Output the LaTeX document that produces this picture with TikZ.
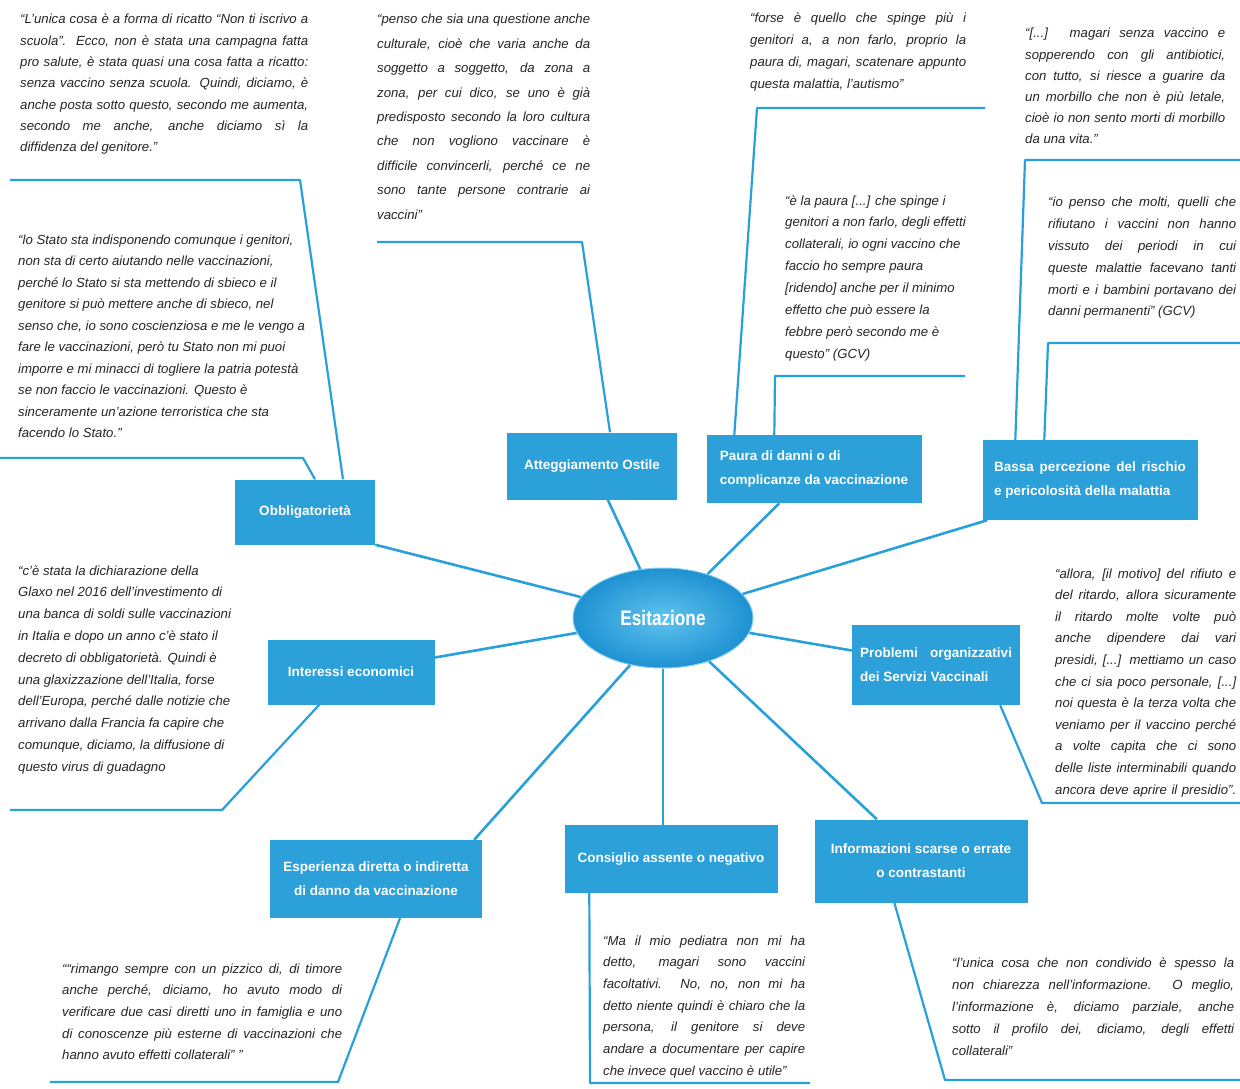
\documentclass[tikz,border=0pt]{standalone}
\usepackage{fontspec}
\setmainfont{Liberation Sans}
\newfontfamily\titlefont{Liberation Sans}[FakeStretch=0.82]
\usetikzlibrary{shapes.geometric,calc}

\definecolor{mapblue}{RGB}{40,161,219}
\definecolor{boxblue}{RGB}{44,160,217}
\definecolor{quotegray}{RGB}{38,38,38}
\definecolor{ellin}{RGB}{95,195,238}
\definecolor{ellout}{RGB}{30,145,210}
\definecolor{ellrim}{RGB}{130,205,240}

% one justified line / one natural-width line of a quotation
\newcommand\J[1]{\hbox to\hsize{#1}}
\newcommand\R[1]{\hbox{#1}}

\tikzset{
  link/.style={draw=mapblue, line width=2.6pt},
  lead/.style={draw=mapblue, line width=2.2pt, line join=round},
  topic/.style={rectangle, fill=boxblue, text=white, inner sep=0pt,
    font=\fontsize{13.5}{24}\selectfont\bfseries},
  quote/.style={inner sep=0pt, anchor=base west, text=quotegray,
    font=\fontsize{13.2}{21.6}\selectfont\itshape},
}

\begin{document}
\begin{tikzpicture}[x=1pt,y=-1pt]
\useasboundingbox (0,0) rectangle (1240,1089);
\fill[white] (0,0) rectangle (1240,1089);

% central concept
\node[ellipse, minimum width=180pt, minimum height=100pt, inner sep=0pt,
  inner color=ellin, outer color=ellout, draw=ellrim, line width=1pt,
  text=white, font=\titlefont\fontsize{21}{24}\selectfont\bfseries]
  (esi) at (663,618) {Esitazione};

% topic boxes
\node[topic, minimum width=140pt, minimum height=65pt] (obb) at (305,512) {Obbligatorietà};
\node[topic, minimum width=170pt, minimum height=67pt] (att) at (592,466) {Atteggiamento Ostile};
\node[topic, minimum width=215pt, minimum height=68pt, align=left] (pau) at (814,469)
  {Paura di danni o di\\complicanze da vaccinazione};
\node[topic, minimum width=215pt, minimum height=80pt, align=left] (bas) at (1090,480)
  {\hbox to 192pt{Bassa\hfill percezione\hfill del\hfill rischio}\\e pericolosità della malattia};
\node[topic, minimum width=168pt, minimum height=80pt, align=left] (pro) at (936,665)
  {\hbox to 152pt{Problemi\hfill organizzativi}\\dei Servizi Vaccinali};
\node[topic, minimum width=167pt, minimum height=65pt] (int) at (351,672) {Interessi economici};
\node[topic, minimum width=212pt, minimum height=78pt, align=center] (esp) at (376,879)
  {Esperienza diretta o indiretta\\di danno da vaccinazione};
\node[topic, minimum width=213pt, minimum height=68pt] (con) at (671,859) {Consiglio assente o negativo};
\node[topic, minimum width=213pt, minimum height=83pt, align=center] (inf) at (921,861)
  {Informazioni scarse o errate\\o contrastanti};

% spokes from the centre
\draw[link] (esi) -- (obb.south east);
\draw[link] (esi) -- (att);
\draw[link] (esi) -- (pau);
\draw[link] (esi) -- ($(bas.south west)+(5,0)$);
\draw[link] (esi) -- (pro);
\draw[link] (esi) -- (int);
\draw[link] (esi.235) -- ($(esp.north east)+(-8,0)$);
\draw[link] (esi) -- (esi |- con.north);
\draw[link] (esi) -- (inf);

% free ends of the quotation leaders
\coordinate (a1) at (300,180);  \coordinate (a2) at (10,180);
\coordinate (b1) at (303,458);  \coordinate (b2) at (0,458);
\coordinate (c1) at (582,242);  \coordinate (c2) at (377,242);
\coordinate (d1) at (757,108);  \coordinate (d2) at (985,108);
\coordinate (e1) at (775,376);  \coordinate (e2) at (965,376);
\coordinate (f1) at (1025,160); \coordinate (f2) at (1240,160);
\coordinate (g1) at (1048,343); \coordinate (g2) at (1240,343);
\coordinate (h1) at (1042,803); \coordinate (h2) at (1240,803);
\coordinate (i1) at (222,810);  \coordinate (i2) at (10,810);
\coordinate (j1) at (338,1082); \coordinate (j2) at (50,1082);
\coordinate (k1) at (590,1083); \coordinate (k2) at (810,1083);
\coordinate (l1) at (945,1080); \coordinate (l2) at (1240,1080);

% quotation leaders
\draw[lead] ($(obb.north)+(38,0)$) -- (a1) -- (a2);
\draw[lead] ($(obb.north)+(10,0)$) -- (b1) -- (b2);
\draw[lead] ($(att.north)+(18,0)$) -- (c1) -- (c2);
\draw[lead] ($(pau.north west)+(28,0)$) -- (d1) -- (d2);
\draw[lead] ($(pau.north west)+(68,0)$) -- (e1) -- (e2);
\draw[lead] ($(bas.north west)+(33,0)$) -- (f1) -- (f2);
\draw[lead] ($(bas.north west)+(62,0)$) -- (g1) -- (g2);
\draw[lead] ($(pro.south east)+(-20,0)$) -- (h1) -- (h2);
\draw[lead] ($(int.south west)+(52,0)$) -- (i1) -- (i2);
\draw[lead] ($(esp.south)+(24,0)$) -- (j1) -- (j2);
\draw[lead] ($(con.south west)+(25,0)$) -- (k1) -- (k2);
\draw[lead] ($(inf.south west)+(80,0)$) -- (l1) -- (l2);

% quotations
\node[quote] (q1) at (20,24) {\parbox[t]{288pt}{\baselineskip=21.3pt
\J{“L'unica cosa è a forma di ricatto “Non ti iscrivo a}
\J{scuola”. Ecco, non è stata una campagna fatta}
\J{pro salute, è stata quasi una cosa fatta a ricatto:}
\J{senza vaccino senza scuola. Quindi, diciamo, è}
\J{anche posta sotto questo, secondo me aumenta,}
\J{secondo me anche, anche diciamo sì la}
\R{diffidenza del genitore.”}}};

\node[quote] (q2) at (377,24) {\parbox[t]{213pt}{\baselineskip=24.4pt
\J{“penso che sia una questione anche}
\J{culturale, cioè che varia anche da}
\J{soggetto a soggetto, da zona a}
\J{zona, per cui dico, se uno è già}
\J{predisposto secondo la loro cultura}
\J{che non vogliono vaccinare è}
\J{difficile convincerli, perché ce ne}
\J{sono tante persone contrarie ai}
\R{vaccini”}}};

\node[quote] (q3) at (750,23) {\parbox[t]{216pt}{\baselineskip=22pt
\J{“forse è quello che spinge più i}
\J{genitori a, a non farlo, proprio la}
\J{paura di, magari, scatenare appunto}
\R{questa malattia, l'autismo”}}};

\node[quote] (q4) at (1025,38) {\parbox[t]{200pt}{\baselineskip=21.2pt
\J{“[...] magari senza vaccino e}
\J{sopperendo con gli antibiotici,}
\J{con tutto, si riesce a guarire da}
\J{un morbillo che non è più letale,}
\J{cioè io non sento morti di morbillo}
\R{da una vita.”}}};

\node[quote] (q5) at (18,244) {\parbox[t]{290pt}{\baselineskip=21.5pt
\R{“lo Stato sta indisponendo comunque i genitori,}
\R{non sta di certo aiutando nelle vaccinazioni,}
\R{perché lo Stato si sta mettendo di sbieco e il}
\R{genitore si può mettere anche di sbieco, nel}
\R{senso che, io sono coscienziosa e me le vengo a}
\R{fare le vaccinazioni, però tu Stato non mi puoi}
\R{imporre e mi minacci di togliere la patria potestà}
\R{se non faccio le vaccinazioni. Questo è}
\R{sinceramente un'azione terroristica che sta}
\R{facendo lo Stato.”}}};

\node[quote] (q6) at (785,205) {\parbox[t]{185pt}{\baselineskip=21.9pt
\R{“è la paura [...] che spinge i}
\R{genitori a non farlo, degli effetti}
\R{collaterali, io ogni vaccino che}
\R{faccio ho sempre paura}
\R{[ridendo] anche per il minimo}
\R{effetto che può essere la}
\R{febbre però secondo me è}
\R{questo” (GCV)}}};

\node[quote] (q7) at (1048,207) {\parbox[t]{188pt}{\baselineskip=21.8pt
\J{“io penso che molti, quelli che}
\J{rifiutano i vaccini non hanno}
\J{vissuto dei periodi in cui}
\J{queste malattie facevano tanti}
\J{morti e i bambini portavano dei}
\R{danni permanenti” (GCV)}}};

\node[quote] (q8) at (18,575) {\parbox[t]{220pt}{\baselineskip=21.8pt
\R{“c'è stata la dichiarazione della}
\R{Glaxo nel 2016 dell'investimento di}
\R{una banca di soldi sulle vaccinazioni}
\R{in Italia e dopo un anno c'è stato il}
\R{decreto di obbligatorietà. Quindi è}
\R{una glaxizzazione dell'Italia, forse}
\R{dell'Europa, perché dalle notizie che}
\R{arrivano dalla Francia fa capire che}
\R{comunque, diciamo, la diffusione di}
\R{questo virus di guadagno}}};

\node[quote] (q9) at (1055,578) {\parbox[t]{181pt}{\baselineskip=21.6pt
\J{“allora, [il motivo] del rifiuto e}
\J{del ritardo, allora sicuramente}
\J{il ritardo molte volte può}
\J{anche dipendere dai vari}
\J{presidi, [...] mettiamo un caso}
\J{che ci sia poco personale, [...]}
\J{noi questa è la terza volta che}
\J{veniamo per il vaccino perché}
\J{a volte capita che ci sono}
\J{delle liste interminabili quando}
\J{ancora deve aprire il presidio”.}}};

\node[quote] (q10) at (62,973) {\parbox[t]{280pt}{\baselineskip=21.7pt
\J{““rimango sempre con un pizzico di, di timore}
\J{anche perché, diciamo, ho avuto modo di}
\J{verificare due casi diretti uno in famiglia e uno}
\J{di conoscenze più esterne di vaccinazioni che}
\R{hanno avuto effetti collaterali” ”}}};

\node[quote] (q11) at (603,945) {\parbox[t]{202pt}{\baselineskip=21.7pt
\J{“Ma il mio pediatra non mi ha}
\J{detto, magari sono vaccini}
\J{facoltativi. No, no, non mi ha}
\J{detto niente quindi è chiaro che la}
\J{persona, il genitore si deve}
\J{andare a documentare per capire}
\R{che invece quel vaccino è utile”}}};

\node[quote] (q12) at (952,967) {\parbox[t]{282pt}{\baselineskip=22pt
\J{“l'unica cosa che non condivido è spesso la}
\J{non chiarezza nell'informazione. O meglio,}
\J{l'informazione è, diciamo parziale, anche}
\J{sotto il profilo dei, diciamo, degli effetti}
\R{collaterali”}}};
\end{tikzpicture}
\end{document}
